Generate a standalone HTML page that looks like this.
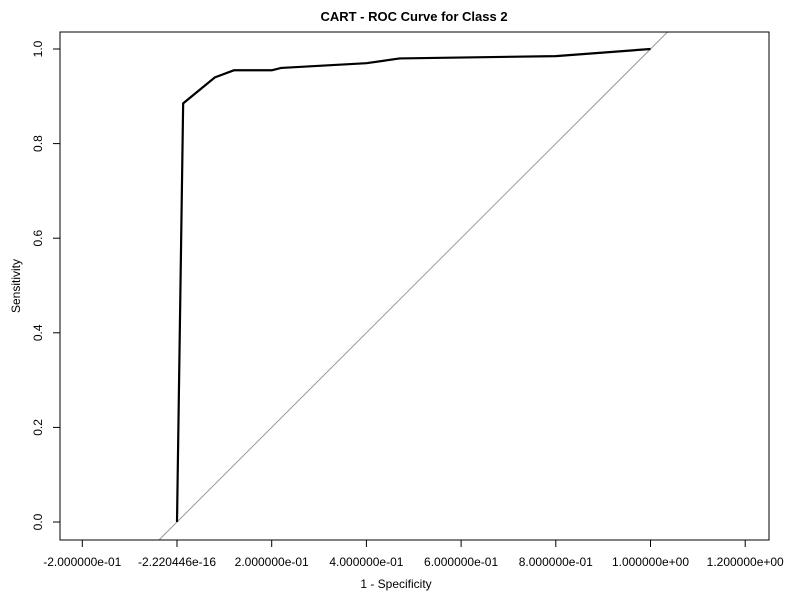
<!DOCTYPE html>
<html><head><meta charset="utf-8"><style>
html,body{margin:0;padding:0;background:#fff;overflow:hidden;width:800px;height:600px;}
svg{display:block;}
svg text{font-family:"Liberation Sans",Arial,sans-serif;font-size:12px;fill:#000;}
</style></head><body>
<svg id="chart" width="800" height="600" xmlns="http://www.w3.org/2000/svg">
<rect width="800" height="600" fill="#fff"/>
<text x="414" y="21" text-anchor="middle" font-weight="bold" style="font-size:13px">CART - ROC Curve for Class 2</text>
<text x="396" y="588" text-anchor="middle">1 - Specificity</text>
<text transform="translate(20,286) rotate(-90)" text-anchor="middle">Sensitivity</text>
<g id="xaxis"></g>
<g id="yaxis"></g>
<g id="plot"></g>
<rect x="60" y="32" width="709" height="508" fill="none" stroke="#000"/>
</svg>
<script>
const xTicks=[-0.2,0,0.2,0.4,0.6,0.8,1.0,1.2];
const xTickLabels=["-2.000000e-01","-2.220446e-16","2.000000e-01","4.000000e-01","6.000000e-01","8.000000e-01","1.000000e+00","1.200000e+00"];
const yTicks=[0,0.2,0.4,0.6,0.8,1.0];
const yTickLabels=["0.0","0.2","0.4","0.6","0.8","1.0"];
const fpr=[0,0.013,0.08,0.12,0.2,0.22,0.4,0.47,0.8,1.0];
const tpr=[0,0.885,0.94,0.955,0.955,0.96,0.97,0.98,0.985,1.0];
const NS="http://www.w3.org/2000/svg";
function sx(v){return 177+v*473.5;}
function sy(v){return 522-v*473;}
function mk(tag,attrs,parent){const e=document.createElementNS(NS,tag);for(const k in attrs)e.setAttribute(k,attrs[k]);parent.appendChild(e);return e;}
const xa=document.getElementById('xaxis'),ya=document.getElementById('yaxis'),pl=document.getElementById('plot');
mk('line',{x1:sx(xTicks[0]),x2:sx(xTicks[xTicks.length-1]),y1:540,y2:540,stroke:'#000'},xa);
xTicks.forEach((t,i)=>{
 const l=mk('line',{x1:sx(t),x2:sx(t),y1:540,y2:547,stroke:'#000'},xa);
 
 
 const tx=mk('text',{x:sx(t),y:566,'text-anchor':'middle'},xa);tx.textContent=xTickLabels[i];
 
 
});
mk('line',{x1:60,x2:60,y1:sy(0),y2:sy(1),stroke:'#000'},ya);
yTicks.forEach((t,i)=>{
 const l=mk('line',{x1:53,x2:60,y1:sy(t),y2:sy(t),stroke:'#000'},ya);
 
 
 const tx=mk('text',{transform:`translate(42,${sy(t)}) rotate(-90)`,'text-anchor':'middle'},ya);tx.textContent=yTickLabels[i];
 
 
});
const vLo=(522-540)/473, vHi=(522-32)/473;
const diag=mk('line',{x1:sx(vLo),y1:sy(vLo),x2:sx(vHi),y2:sy(vHi),stroke:'#999','stroke-width':1},pl);


const pts=fpr.map((f,i)=>sx(f)+','+sy(tpr[i])).join(' ');
const roc=mk('polyline',{points:pts,fill:'none',stroke:'#000','stroke-width':2.2,'stroke-linejoin':'round'},pl);


</script>
</body></html>
